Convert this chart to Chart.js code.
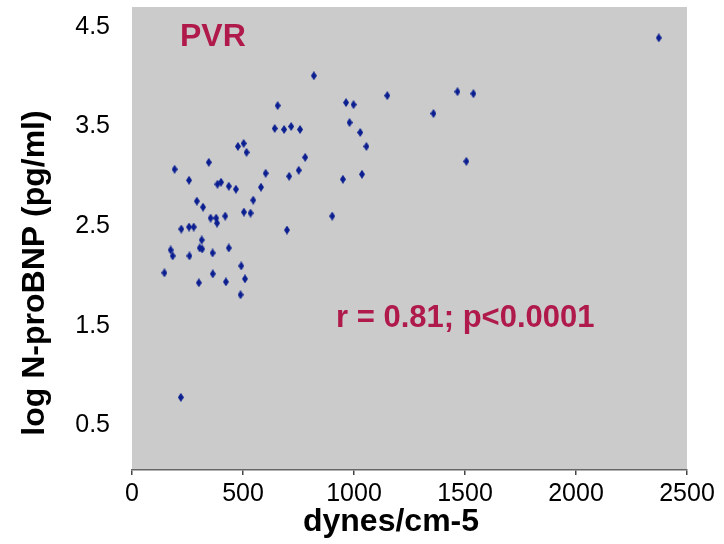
<!DOCTYPE html>
<html>
<head>
<meta charset="utf-8">
<script src="https://cdn.jsdelivr.net/npm/chart.js@4.4.1/dist/chart.umd.min.js"></script>
<style>
  html, body { margin: 0; padding: 0; background: #fff; }
  #wrap { width: 724px; height: 544px; }
</style>
</head>
<body>
<div id="wrap"><canvas id="pvrChart" width="724" height="544"></canvas></div>
<script>
// PVR (dynes/cm-5) vs log N-proBNP (pg/ml)
const pvrValues = [
  192, 346, 477, 503, 516, 257, 385, 401, 436, 468,
  581, 602, 708, 751, 780, 292, 320, 546, 504, 534,
  354, 379, 383, 420, 222, 257, 278, 698, 314, 174,
  183, 305, 316, 259, 363, 436, 146, 301, 364, 423,
  492, 509, 489, 819, 964, 998, 1150, 980, 1028, 1056,
  950, 1036, 902, 1358, 1466, 1538, 1506, 2373, 220, 656,
  643, 685, 717, 757
];
const logBnpValues = [
  3.07, 3.14, 3.30, 3.33, 3.24, 2.96, 2.92, 2.94, 2.90, 2.87,
  2.89, 3.03, 3.00, 3.06, 3.19, 2.75, 2.69, 2.76, 2.64, 2.63,
  2.58, 2.58, 2.53, 2.60, 2.47, 2.49, 2.49, 2.46, 2.36, 2.26,
  2.20, 2.28, 2.27, 2.20, 2.23, 2.28, 2.03, 1.93, 2.02, 1.94,
  2.10, 1.97, 1.81, 4.01, 3.74, 3.72, 3.81, 3.54, 3.44, 3.30,
  2.97, 3.02, 2.60, 3.63, 3.85, 3.83, 3.15, 4.39, 0.78, 3.71,
  3.48, 3.47, 3.50, 3.47
];
const yTickValues = [0.5, 1.5, 2.5, 3.5, 4.5];

const FONT = '"Liberation Sans", Arial, sans-serif';
const BLUE = '#0b1f91';
const RED = '#b01a4b';

// tall little diamond like the original markers
function diamond() {
  const c = document.createElement('canvas');
  c.width = 6; c.height = 9;
  const g = c.getContext('2d');
  g.fillStyle = BLUE;
  g.beginPath();
  g.moveTo(3, 0); g.lineTo(6, 4.5); g.lineTo(3, 9); g.lineTo(0, 4.5);
  g.closePath();
  g.fill();
  return c;
}

const points = pvrValues.map((x, i) => ({ x: x, y: logBnpValues[i] }));

const decorPlugin = {
  id: 'decor',
  beforeDraw(chart) {
    const { ctx, chartArea: a } = chart;
    ctx.save();
    ctx.fillStyle = '#cbcbcb';
    ctx.fillRect(a.left, a.top, a.right - a.left, a.bottom - a.top);
    ctx.restore();
  },
  afterDraw(chart) {
    const ctx = chart.ctx;
    ctx.save();
    ctx.fillStyle = RED;
    ctx.textBaseline = 'alphabetic';
    ctx.textAlign = 'left';
    ctx.font = 'bold 32px ' + FONT;
    ctx.fillText('PVR', 180, 46);
    ctx.font = 'bold 31px ' + FONT;
    ctx.fillText('r = 0.81; p<0.0001', 336, 327);

    ctx.fillStyle = '#000';
    ctx.textAlign = 'center';
    ctx.font = 'bold 32px ' + FONT;
    ctx.fillText('dynes/cm-5', 391, 531);

    ctx.translate(43.5, 273);
    ctx.rotate(-Math.PI / 2);
    ctx.fillText('log N-proBNP (pg/ml)', 0, 0);
    ctx.restore();
  }
};

new Chart(document.getElementById('pvrChart'), {
  type: 'scatter',
  data: {
    datasets: [{
      data: points,
      pointStyle: diamond(),
      pointRadius: 4,
      pointHoverRadius: 4
    }]
  },
  options: {
    responsive: false,
    animation: false,
    events: [],
    layout: { padding: { top: 7, right: 37, left: 0, bottom: 0 } },
    plugins: { legend: { display: false }, tooltip: { enabled: false } },
    scales: {
      x: {
        type: 'linear',
        min: 0,
        max: 2500,
        ticks: { stepSize: 500, color: '#000', font: { family: FONT, size: 25 }, padding: 4, maxRotation: 0, callback: v => String(v) },
        grid: { drawOnChartArea: false, drawTicks: true, tickLength: 5, color: '#444', lineWidth: 1.5 },
        border: { display: true, color: '#666', width: 1.5 },
        afterFit(scale) { scale.height = 74; scale.paddingLeft = 0; scale.paddingRight = 0; }
      },
      y: {
        type: 'linear',
        min: 0.05,
        max: 4.7,
        afterBuildTicks(scale) { scale.ticks = yTickValues.map(v => ({ value: v })); },
        ticks: { color: '#000', font: { family: FONT, size: 25 }, padding: 22, callback: v => v.toFixed(1) },
        grid: { display: false, drawTicks: false },
        border: { display: false },
        afterFit(scale) { scale.width = 132; scale.paddingTop = 0; scale.paddingBottom = 0; }
      }
    }
  },
  plugins: [decorPlugin]
});
</script>
</body>
</html>
